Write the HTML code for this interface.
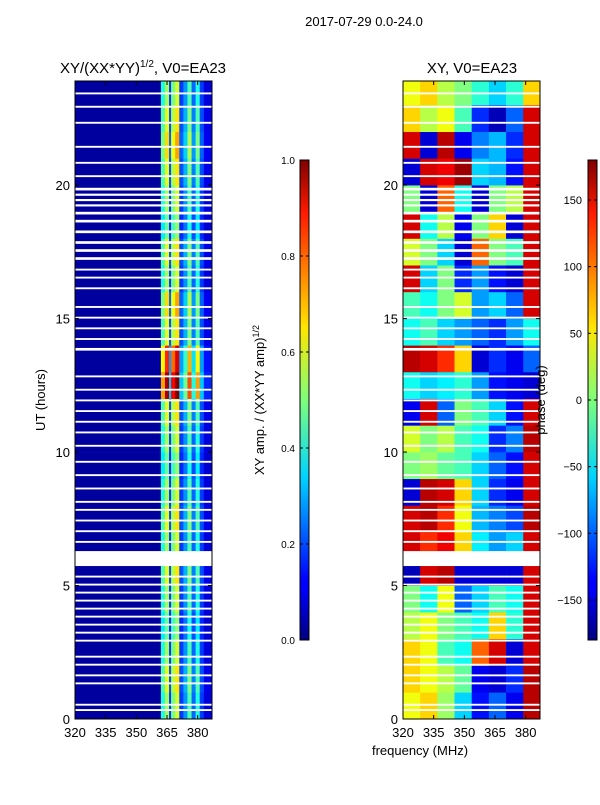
<!DOCTYPE html>
<html><head><meta charset="utf-8"><style>
body{margin:0;background:#fff;width:600px;height:800px;overflow:hidden}
svg text{font-family:"Liberation Sans",sans-serif;fill:#000}
</style></head><body>
<svg id="s" width="600" height="800">
<defs>
<linearGradient id="jet" x1="0" y1="1" x2="0" y2="0">
<stop offset="0" stop-color="#00007f"/><stop offset="0.11" stop-color="#0000ff"/><stop offset="0.125" stop-color="#0000ff"/>
<stop offset="0.34" stop-color="#00d4ff"/><stop offset="0.5" stop-color="#7dff7a"/><stop offset="0.65" stop-color="#ffe600"/>
<stop offset="0.89" stop-color="#ff1a00"/><stop offset="1" stop-color="#7f0000"/>
</linearGradient>
</defs>
<text x="364" y="26" font-size="13" text-anchor="middle">2017-07-29 0.0-24.0</text>
<text x="143" y="73" font-size="15" text-anchor="middle">XY/(XX*YY)<tspan font-size="10" dy="-6">1/2</tspan><tspan dy="6">, V0=EA23</tspan></text>
<text x="472" y="73" font-size="15" text-anchor="middle">XY, V0=EA23</text>
<g id="left"></g>
<g id="right"></g>
<g id="axes"></g>
<text transform="translate(45,400) rotate(-90)" font-size="13" text-anchor="middle">UT (hours)</text>
<text x="420" y="755" font-size="13" text-anchor="middle">frequency (MHz)</text>
<rect x="300" y="160" width="9" height="480" fill="url(#jet)" stroke="#000" stroke-width="1"/>
<rect x="588" y="160" width="9" height="480" fill="url(#jet)" stroke="#000" stroke-width="1"/>
<g id="cb"></g>
<text transform="translate(264,400) rotate(-90)" font-size="13" text-anchor="middle">XY amp. / (XX*YY amp)<tspan font-size="9" dy="-5">1/2</tspan></text>
<text transform="translate(545,400) rotate(-90)" font-size="13" text-anchor="middle">phase (deg)</text>
</svg>
<script>
const ampFreqEdges=[320,362,364,366,367,369,371,373,375,377,379,381,383,387];
const ampCols=[0.03,0.45,0.6,0.2,0.55,0.65,0.2,0.3,0.5,0.25,0.45,0.2,0.1];
const ampRowGain=[0.9,1.0,0.9,0.8,0.9,1.0,0.9,1.0,0.9,0.8,0.9,1.0,1.6,1.4,1.0,1.1,0.9,1.0,0.8,0.9,1.0,1.1,1.0,0.9];
const phaseFreqEdges=[320,328.4,336.8,345.2,353.6,362,370.4,378.8,387];
const phase=[
[40,60,10,-60,-130,-100,-140,160],
[60,40,20,-10,-140,-150,-120,160],
[60,40,-20,-40,100,150,-150,150],
[20,40,0,-20,-40,60,-30,150],
[0,-40,40,-100,-60,-20,-40,150],
[-160,150,160,-150,-150,-150,-150,150],
[150,120,140,60,-50,-80,-60,150],
[150,160,120,40,-70,-90,-110,160],
[-150,160,150,60,-60,-120,-140,150],
[0,10,-10,-20,-60,-100,-130,150],
[30,0,20,-20,-40,-120,-90,160],
[-140,150,-100,0,-20,-60,-130,150],
[-40,-60,-50,-30,-80,-130,-140,-150],
[160,150,120,60,-150,-120,-140,-100],
[-40,-20,-60,-80,-100,-120,-80,-40],
[-20,-40,0,30,-80,-60,-100,150],
[150,-60,0,-120,-80,-130,-150,150],
[30,0,-60,-150,100,0,-20,150],
[150,-40,20,-140,0,60,-150,150],
[0,-150,100,-40,-150,0,20,150],
[-150,150,140,170,-60,-70,-130,150],
[150,-150,160,-140,-90,-70,-120,150],
[60,20,40,-20,-120,-160,-100,150],
[40,60,20,0,-30,-60,-30,60]];
const gapStarts=[0.3,0.5,1.3,1.6,2.0,2.3,2.9,3.2,3.5,3.8,4.1,4.4,4.7,5.0,5.3,5.73,6.6,7.0,7.4,7.8,8.1,8.6,9.1,9.6,10.2,10.7,11.1,11.5,11.9,12.3,12.8,13.8,14.2,14.6,15.0,15.4,16.1,16.5,16.8,17.2,17.5,17.8,18.2,18.6,18.9,19.2,19.4,19.6,19.8,20.3,20.8,21.4,22.3,22.9,23.4];
const gapLens=[0.07,0.07,0.07,0.07,0.07,0.07,0.07,0.07,0.07,0.07,0.07,0.07,0.07,0.07,0.07,0.56,0.07,0.07,0.07,0.07,0.07,0.07,0.07,0.07,0.07,0.07,0.07,0.07,0.07,0.07,0.07,0.1,0.07,0.07,0.07,0.07,0.07,0.07,0.07,0.1,0.1,0.1,0.1,0.1,0.1,0.08,0.08,0.08,0.1,0.07,0.07,0.07,0.07,0.07,0.07];
const xTicks=[320,335,350,365,380];
const yTicks=[0,5,10,15,20];
const ampTicks=[0.0,0.2,0.4,0.6,0.8,1.0];
const phaseTicks=[-150,-100,-50,0,50,100,150];

const NS="http://www.w3.org/2000/svg";
const T=81,B=719,F0=320,F1=387,H1=23.9;
const yS=h=>B-(h/H1)*(B-T);
const xS=(f,x0)=>x0+(f-F0)/(F1-F0)*137;
function jet(v){v=Math.max(0,Math.min(1,v));
 const r=Math.min(4*v-1.5,-4*v+4.5),g=Math.min(4*v-0.5,-4*v+3.5),b=Math.min(4*v+0.5,-4*v+2.5);
 const c=x=>Math.round(255*Math.max(0,Math.min(1,x)));return `rgb(${c(r)},${c(g)},${c(b)})`;}
function rect(p,x,y,w,h,fill){const r=document.createElementNS(NS,'rect');
 r.setAttribute('x',x);r.setAttribute('y',y);r.setAttribute('width',w);r.setAttribute('height',h);r.setAttribute('fill',fill);p.appendChild(r);return r;}
function text(p,x,y,s,anchor){const t=document.createElementNS(NS,'text');t.setAttribute('x',x);t.setAttribute('y',y);
 t.setAttribute('font-size','13');t.setAttribute('text-anchor',anchor);t.textContent=s;p.appendChild(t);return t;}
function line(p,x1,y1,x2,y2){const l=document.createElementNS(NS,'line');l.setAttribute('x1',x1);l.setAttribute('y1',y1);
 l.setAttribute('x2',x2);l.setAttribute('y2',y2);l.setAttribute('stroke','#000');p.appendChild(l);return l;}
const L=document.getElementById('left'),R=document.getElementById('right');
for(let h=0;h<24;h++){
 const y0=yS(Math.min(h+1,H1)),y1=yS(h);
 if(y1<=y0)continue;
 for(let c=0;c<ampCols.length;c++){
  const x0=xS(ampFreqEdges[c],75),x1=xS(ampFreqEdges[c+1],75);
  const v=c===0?ampCols[c]:ampCols[c]*ampRowGain[h];
  const r=rect(L,x0,y0,x1-x0+0.3,y1-y0+0.3,jet(v));
  
  
 }
 for(let c=0;c<8;c++){
  const x0=xS(phaseFreqEdges[c],403),x1=xS(phaseFreqEdges[c+1],403);
  const r=rect(R,x0,y0,x1-x0+0.3,y1-y0+0.3,jet((phase[h][c]+180)/360));
  
  
 }
}
for(let i=0;i<gapStarts.length;i++){
 const y0=yS(gapStarts[i]+gapLens[i]),y1=yS(gapStarts[i]);
 [75,403].forEach(x=>{const r=rect(x===75?L:R,x,y0,137,y1-y0,'#fff');
  
  });
}
const A=document.getElementById('axes');
[75,403].forEach(x0=>{
 const fr=rect(A,x0,T,137,B-T,'none');fr.setAttribute('stroke','#000');
 
 
 xTicks.forEach(f=>{const x=xS(f,x0);line(A,x,B,x,B-4);line(A,x,T,x,T+4);
  const t=text(A,x,737,String(f),'middle');
  
  });
 yTicks.forEach(h=>{const y=yS(h);line(A,x0,y,x0+4,y);line(A,x0+137,y,x0+133,y);
  const t=text(A,x0-5,y+5,String(h),'end');
  
  });
});
const C=document.getElementById('cb');
ampTicks.forEach(v=>{const y=640-v*480;line(C,300,y,303,y);line(C,309,y,306,y);
 const t=text(C,295,y+4,v.toFixed(1),'end');t.setAttribute('font-size','10');
 
 });
phaseTicks.forEach(v=>{const y=640-(v+180)/360*480;line(C,588,y,591,y);line(C,597,y,594,y);
 const t=text(C,582,y+4,v<0?'\u2212'+(-v):String(v),'end');t.setAttribute('font-size','11');
 
 });
</script>
</body></html>
